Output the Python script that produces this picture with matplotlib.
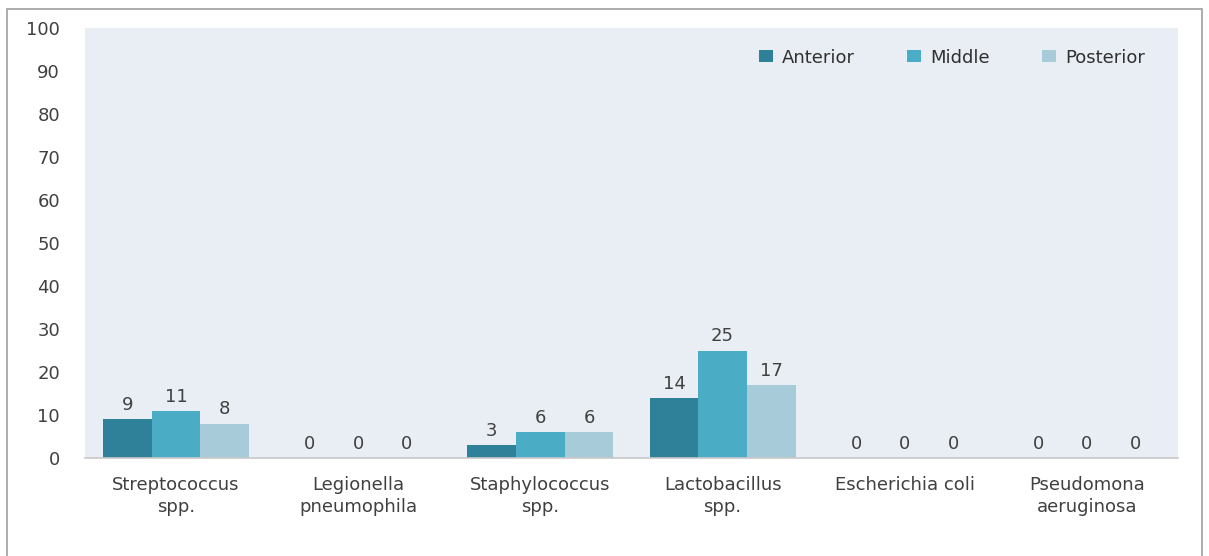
import matplotlib
matplotlib.use("Agg")
import matplotlib.pyplot as plt
import numpy as np
from matplotlib.patches import Rectangle

categories = ["Streptococcus\nspp.", "Legionella\npneumophila", "Staphylococcus\nspp.",
              "Lactobacillus\nspp.", "Escherichia coli", "Pseudomona\naeruginosa"]
series_names = ["Anterior", "Middle", "Posterior"]
anterior = [9, 0, 3, 14, 0, 0]
middle = [11, 0, 6, 25, 0, 0]
posterior = [8, 0, 6, 17, 0, 0]
colors = ["#2F819A", "#4BACC6", "#A7CBD8"]
yticks = [0, 10, 20, 30, 40, 50, 60, 70, 80, 90, 100]

plt.rcParams["font.family"] = ["DejaVu Sans"]
text_color = "#404040"
fs = 13

fig = plt.figure(figsize=(12.09, 5.56), dpi=100)
fig.patch.set_facecolor("white")
# outer frame around the chart
fig.patches.append(Rectangle((7 / 1209, -0.02), 1195 / 1209, 1 - 9 / 556 + 0.02,
                             transform=fig.transFigure, fill=False,
                             edgecolor="#A0A0A0", linewidth=1.2))

ax = fig.add_axes([85 / 1209, (556 - 458) / 556, (1178 - 85) / 1209, (458 - 28) / 556])
ax.set_facecolor("#E9EEF5")

x = np.arange(len(categories))
w = 0.267
for i, (vals, name) in enumerate(zip([anterior, middle, posterior], series_names)):
    pos = x + (i - 1) * w
    bars = ax.bar(pos, vals, width=w, color=colors[i], label=name, edgecolor="none")
    for b, v in zip(bars, vals):
        ax.text(b.get_x() + b.get_width() / 2, v + 1.2, str(v), ha="center", va="bottom",
                fontsize=fs, color=text_color)

ax.set_xlim(-0.5, len(categories) - 0.5)
ax.set_ylim(0, 100)
ax.set_yticks(yticks)
ax.set_yticklabels([str(t) for t in yticks])
ax.set_xticks(x)
ax.set_xticklabels(categories, fontsize=fs, color=text_color, linespacing=1.3)
ax.tick_params(axis="y", length=0, pad=18, labelsize=fs, labelcolor=text_color)
ax.tick_params(axis="x", length=0, pad=13)
for s in ["top", "right", "left"]:
    ax.spines[s].set_visible(False)
ax.spines["bottom"].set_color("#C8C8C8")
ax.spines["bottom"].set_linewidth(1.2)

leg = ax.legend(loc="upper right", ncol=3, frameon=False, fontsize=fs,
                handlelength=0.78, handleheight=0.6, handletextpad=0.5,
                columnspacing=2.9, bbox_to_anchor=(0.985, 0.99))
for t in leg.get_texts():
    t.set_color("#303030")

fig.savefig("out.png", dpi=100)
